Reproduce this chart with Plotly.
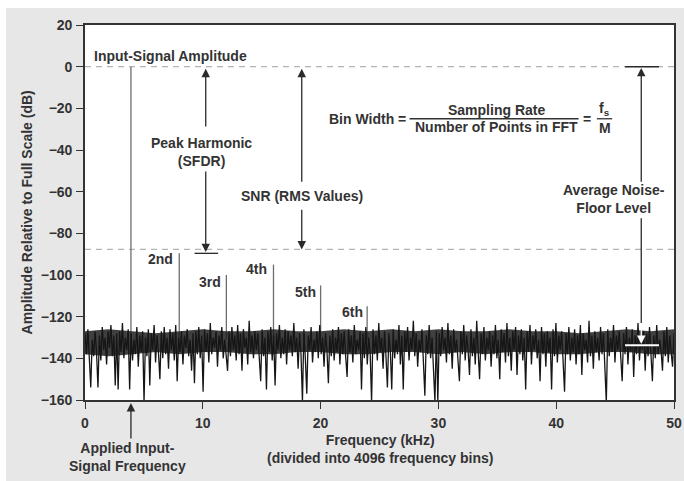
import plotly.graph_objects as go

# ---------------- data ----------------
x_range_khz = [0, 50]
y_range_db = [-160, 20]
x_ticks = [0, 10, 20, 30, 40, 50]
y_ticks = [20, 0, -20, -40, -60, -80, -100, -120, -140, -160]

harmonic_labels = ["", "2nd", "3rd", "4th", "5th", "6th"]
harmonic_khz = [3.9, 8.0, 12.0, 16.0, 20.0, 23.95]
harmonic_db = [0, -89.5, -100, -95, -105, -115]

snr_level_db = -87.7
sfdr_level_db = -89.6
noise_floor_db = -133.7

# dense core of the noise floor, read every 2 kHz
core_khz = [0, 2, 4, 6, 8, 10, 12, 14, 16, 18, 20, 22, 24, 26, 28, 30, 32, 34, 36, 38, 40, 42, 44, 46, 48, 50]
core_top_db = [-127, -126, -127, -128, -127, -126, -127, -127, -126, -127, -127, -126, -127, -126, -127, -126, -127, -127, -126, -127, -127, -128, -127, -126, -127, -126]
core_bottom_db = [-138, -139, -138, -137, -138, -137, -137, -138, -138, -137, -137, -138, -138, -137, -137, -138, -137, -138, -137, -137, -138, -138, -137, -137, -138, -138]

noise_db = [
    -128, -138, -126, -140, -154, -131, -139, -127, -137, -154, -129, -141, -125, -136, -130, -143, -127, -135, -124, -139,
    -129, -153, -128, -155, -127, -137, -123, -140, -130, -136, -126, -155, -128, -141, -131, -138, -125, -144, -129, -137,
    -127, -161, -130, -139, -126, -153, -128, -136, -124, -142, -129, -137, -150, -127, -140, -125, -138, -130, -145, -126,
    -136, -128, -141, -124, -151, -130, -137, -127, -143, -129, -135, -126, -139, -131, -146, -128, -152, -127, -138, -125,
    -140, -129, -156, -126, -137, -128, -142, -123, -138, -130, -135, -127, -144, -129, -136, -125, -140, -131, -137, -146,
    -127, -139, -125, -136, -129, -141, -124, -138, -128, -146, -126, -135, -130, -143, -122, -137, -129, -140, -127, -136,
    -128, -142, -151, -126, -139, -130, -155, -127, -137, -125, -141, -129, -153, -128, -136, -124, -140, -130, -138, -126,
    -143, -127, -136, -129, -139, -123, -137, -130, -145, -128, -138, -161, -126, -140, -157, -129, -136, -125, -142, -131,
    -137, -127, -140, -124, -138, -130, -144, -128, -136, -152, -129, -139, -126, -141, -130, -137, -125, -143, -128, -138,
    -127, -139, -149, -126, -137, -129, -142, -124, -138, -131, -136, -127, -155, -128, -140, -125, -143, -130, -137, -161,
    -126, -138, -129, -141, -123, -137, -130, -145, -127, -139, -154, -128, -136, -155, -126, -140, -131, -138, -124, -143,
    -129, -155, -127, -137, -125, -141, -130, -136, -122, -139, -128, -144, -131, -137, -126, -142, -158, -129, -138, -124,
    -140, -130, -147, -161, -127, -161, -128, -139, -125, -136, -130, -142, -123, -138, -129, -145, -126, -137, -131, -140,
    -151, -127, -138, -124, -141, -129, -136, -148, -126, -139, -130, -143, -122, -137, -150, -128, -138, -125, -141, -130,
    -136, -127, -144, -129, -138, -124, -140, -131, -150, -126, -137, -128, -142, -123, -139, -130, -146, -127, -136, -125,
    -148, -129, -138, -126, -141, -130, -155, -127, -137, -124, -143, -129, -136, -126, -140, -131, -151, -125, -138, -128,
    -144, -127, -137, -130, -155, -126, -139, -123, -142, -129, -136, -127, -145, -156, -128, -138, -125, -141, -130, -137,
    -126, -143, -129, -138, -124, -148, -128, -136, -131, -142, -122, -139, -129, -145, -127, -137, -130, -141, -125, -138,
    -128, -144, -161, -126, -139, -130, -137, -124, -142, -129, -136, -127, -140, -151, -128, -138, -125, -143, -130, -137,
    -126, -149, -129, -138, -123, -141, -130, -136, -127, -146, -128, -139, -125, -137, -151, -129, -140, -124, -138, -131,
    -136, -146, -127, -139, -125, -142, -129, -137, -144, -128,
]

# ---------------- styles ----------------
FONT = "Liberation Sans, Arial, Helvetica, sans-serif"
TXT = "#333333"
GRID_DASH = "#b4b4b4"

noise_khz = [i * x_range_khz[1] / (len(noise_db) - 1) for i in range(len(noise_db))]

fig = go.Figure()

# harmonic / fundamental spikes
hx, hy = [], []
for f, lvl in zip(harmonic_khz, harmonic_db):
    hx += [f, f, None]
    hy += [-138 if lvl == 0 else -131, lvl, None]
fig.add_trace(go.Scatter(x=hx, y=hy, mode="lines",
                         line=dict(color="#6e6e6e", width=1.3),
                         hoverinfo="skip", showlegend=False))

# noise floor: dense core and spikes
fig.add_trace(go.Scatter(x=core_khz, y=core_top_db, mode="lines",
                         line=dict(color="rgba(0,0,0,0)", width=0),
                         hoverinfo="skip", showlegend=False))
fig.add_trace(go.Scatter(x=core_khz, y=core_bottom_db, mode="lines", fill="tonexty",
                         fillcolor="rgba(30,30,30,0.85)",
                         line=dict(color="rgba(0,0,0,0)", width=0),
                         hoverinfo="skip", showlegend=False))
fig.add_trace(go.Scatter(x=noise_khz, y=noise_db, mode="lines",
                         line=dict(color="#161616", width=1.3),
                         hoverinfo="skip", showlegend=False))

def txt(x, y, s, xanchor="center", size=14, xref="x", yref="y", angle=0):
    return dict(x=x, y=y, text=s, xref=xref, yref=yref, showarrow=False,
                xanchor=xanchor, yanchor="middle", textangle=angle,
                font=dict(family=FONT, size=size, color=TXT, weight="bold"))

def arrow(x, y_head, y_tail, color="#2a2a2a", head=2):
    return dict(x=x, y=y_head, ax=x, ay=y_tail, xref="x", yref="y",
                axref="x", ayref="y", text="", showarrow=True,
                arrowhead=head, arrowsize=1.3, arrowwidth=1.3,
                arrowcolor=color)

annotations = [
    txt(7.27, 5.1, "Input-Signal Amplitude"),
    txt(9.9, -41, "Peak Harmonic<br>(SFDR)"),
    txt(18.4, -62.2, "SNR (RMS Values)"),
    txt(27.45, -25, "Bin Width =", xanchor="right"),
    txt(34.93, -20.6, "Sampling Rate"),
    txt(34.93, -29.0, "Number of Points in FFT"),
    txt(42.6, -25, "="),
    txt(44.1, -20.4, "f<sub>s</sub>"),
    txt(44.1, -29.2, "M"),
    txt(44.9, -63.5, "Average Noise-<br>Floor Level"),
    arrow(10.25, -1.0, -29.4),
    arrow(10.25, sfdr_level_db + 0.6, -49.6),
    arrow(18.4, -1.0, -56),
    arrow(18.4, snr_level_db, -68),
    arrow(47.22, -0.6, -56),
    arrow(47.22, -123, -72, head=0),
    arrow(47.22, noise_floor_db + 0.6, -123, color="#ffffff"),
    dict(x=harmonic_khz[0], y=-0.008, xref="x", yref="paper", ax=0, ay=37,
         text="", showarrow=True, arrowhead=2, arrowsize=1.3, arrowwidth=1.3,
         arrowcolor="#2a2a2a"),
    txt(0.073, -0.152, "Applied Input-<br>Signal Frequency", xref="paper", yref="paper"),
    txt(0.5, -0.131, "Frequency (kHz)<br>(divided into 4096 frequency bins)", xref="paper", yref="paper"),
    txt(-0.0985, 0.5, "Amplitude Relative to Full Scale (dB)", xref="paper", yref="paper", angle=-90),
]
label_pos = [None, (6.45, -92.5), (10.65, -103.2), (14.6, -97.3), (18.68, -108), (22.7, -117.6)]
for lab, pos in zip(harmonic_labels, label_pos):
    if lab:
        annotations.append(txt(pos[0], pos[1], lab))

shapes = [
    dict(type="line", xref="paper", yref="y", x0=0, x1=1, y0=0, y1=0,
         line=dict(color=GRID_DASH, width=1.2, dash="6px,5px"), layer="below"),
    dict(type="line", xref="paper", yref="y", x0=0, x1=1, y0=snr_level_db, y1=snr_level_db,
         line=dict(color=GRID_DASH, width=1.2, dash="6px,5px"), layer="below"),
    dict(type="line", xref="x", yref="y", x0=9.3, x1=11.3, y0=sfdr_level_db, y1=sfdr_level_db,
         line=dict(color="#2a2a2a", width=1.3)),
    dict(type="line", xref="x", yref="y", x0=45.84, x1=48.73, y0=0, y1=0,
         line=dict(color="#2a2a2a", width=1.5)),
    dict(type="line", xref="x", yref="y", x0=45.84, x1=48.73, y0=noise_floor_db, y1=noise_floor_db,
         line=dict(color="#ffffff", width=2)),
    dict(type="line", xref="x", yref="y", x0=27.55, x1=41.9, y0=-25, y1=-25,
         line=dict(color=TXT, width=1.3)),
    dict(type="line", xref="x", yref="y", x0=43.45, x1=44.75, y0=-25, y1=-25,
         line=dict(color=TXT, width=1.3)),
    # thin white border strips (top / left) outside the grey panel
    dict(type="rect", xref="paper", yref="paper", x0=-0.1443, x1=1.02, y0=1.0453, y1=1.07,
         line=dict(width=0), fillcolor="#ffffff", layer="below"),
    dict(type="rect", xref="paper", yref="paper", x0=-0.1443, x1=-0.1341, y0=-0.22, y1=1.07,
         line=dict(width=0), fillcolor="#ffffff", layer="below"),
]

axis_common = dict(showgrid=False, zeroline=False, showline=True, mirror=True,
                   linecolor="#333333", linewidth=1.6, ticks="outside", ticklen=7,
                   tickwidth=1.3, tickcolor="#333333", automargin=False,
                   ticklabeloverflow="allow",
                   tickfont=dict(family=FONT, size=14, color=TXT, weight="bold"))

fig.update_layout(
    width=684, height=481,
    margin=dict(l=85, r=10, t=25, b=81),
    paper_bgcolor="#e7e7e8", plot_bgcolor="#ffffff",
    xaxis=dict(range=x_range_khz, tickvals=x_ticks, ticklabelstandoff=2, **axis_common),
    yaxis=dict(range=y_range_db, tickvals=y_ticks, ticklabelstandoff=1, **axis_common),
    annotations=annotations, shapes=shapes, showlegend=False,
)

fig.write_html("out.html", config={"displayModeBar": False},
               post_script="document.body.style.margin='0';document.body.style.overflow='hidden';")
